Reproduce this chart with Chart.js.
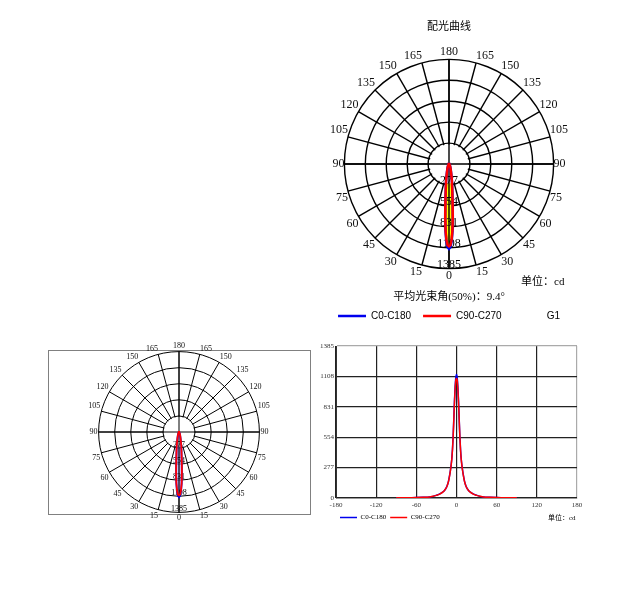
<!DOCTYPE html>
<html>
<head>
<meta charset="utf-8">
<script src="https://cdn.jsdelivr.net/npm/chart.js@4.4.1/dist/chart.umd.min.js"></script>
<style>
  body { margin: 0; background: #fff; }
  #page { position: relative; width: 634px; height: 604px; font-family: 'Liberation Serif', 'Noto Sans CJK SC', serif; }
  canvas, .txt, .frame { position: absolute; }
  .frame { left: 48px; top: 350px; width: 263px; height: 165px; box-sizing: border-box; border: 1px solid #808080; }
  .txt { white-space: nowrap; color: #000; }
</style>
</head>
<body>
<div id="page">
  <div class="frame"></div>
  <canvas id="mainPolar" width="280" height="321" style="left:309px;top:10px"></canvas>
  <canvas id="smallPolar" width="182" height="182" style="left:88px;top:341px"></canvas>
  <canvas id="cartesian" width="290" height="196" style="left:300px;top:335px"></canvas>
  <div class="txt" style="left:521px;top:272px;font-size:11px">单位：cd</div>
  <div class="txt" style="left:548px;top:512px;font-size:7px">单位：cd</div>
</div>
<script>
// gamma angles (deg from nadir) and luminous intensity (cd)
var gammaAngles = [0, 1, 2, 3, 4, 5, 6, 7, 8, 9, 10, 12, 14, 16, 18, 20, 25, 30, 35, 40, 50, 60, 70, 80, 90];
var c0c180  = [1125, 1100, 1020, 890, 725, 565, 445, 360, 302, 257, 217, 152, 112, 86, 69, 57, 37, 25, 15, 10, 6, 4, 3, 2, 2];
var c90c270 = [1090, 1075, 1000, 875, 715, 558, 440, 356, 298, 253, 214, 150, 110, 85, 68, 56, 36, 24, 15, 10, 6, 4, 3, 2, 2];

var seriesNames = ['C0-C180', 'C90-C270'];
var intensityMax = 1385;
var intensityStep = 277;
var angleMin = -180, angleMax = 180, angleStep = 60;

// one category per degree around the circle, text only every 15 degrees
var polarLabels = [];
for (var i = 0; i < 360; i++) {
  polarLabels.push(i % 15 ? '' : String(i <= 180 ? i : 360 - i));
}

var FONT = "'Liberation Serif', 'Noto Sans CJK SC', serif";
var SANS = "'Liberation Sans', 'Noto Sans CJK SC', sans-serif";

function toRadar(vals) {
  var out = new Array(360).fill(null);
  gammaAngles.forEach(function (g, k) {
    out[g] = vals[k];
    out[(360 - g) % 360] = vals[k];
  });
  return out;
}

function toXY(vals) {
  var pts = [];
  for (var k = gammaAngles.length - 1; k > 0; k--) pts.push({x: -gammaAngles[k], y: vals[k]});
  gammaAngles.forEach(function (g, k) { pts.push({x: g, y: vals[k]}); });
  return pts;
}

// white hub, cross through the centre and ring values along the 0 direction
var polarDecor = {
  id: 'polarDecor',
  beforeDatasetsDraw: function (chart, args, opts) {
    var s = chart.scales.r, ctx = chart.ctx;
    var xc = s.xCenter, yc = s.yCenter, R = s.drawingArea;
    var r0 = s.getDistanceFromCenterForValue(intensityStep);
    ctx.save();
    ctx.fillStyle = '#fff';
    ctx.beginPath();
    ctx.arc(xc, yc, r0 - opts.lw, 0, Math.PI * 2);
    ctx.fill();
    ctx.strokeStyle = '#000';
    ctx.lineWidth = opts.lw;
    ctx.beginPath();
    [0, 90, 180, 270].forEach(function (idx) {
      var p = s.getPointPosition(idx, R);
      ctx.moveTo(xc, yc);
      ctx.lineTo(p.x, p.y);
    });
    ctx.stroke();
    ctx.fillStyle = '#000';
    ctx.font = opts.size + 'px ' + FONT;
    ctx.textAlign = 'center';
    ctx.textBaseline = 'alphabetic';
    s.ticks.forEach(function (t) {
      if (t.value > 0) ctx.fillText(String(t.value), xc, yc + s.getDistanceFromCenterForValue(t.value) - 1);
    });
    ctx.restore();
  }
};

function radarScale(size, pad, lw) {
  return {
    r: {
      min: 0,
      max: intensityMax,
      startAngle: 180,
      ticks: {stepSize: intensityStep, display: false},
      grid: {circular: true, color: '#000', lineWidth: lw},
      angleLines: {
        color: '#000',
        lineWidth: function (c) { return c.index % 15 === 0 ? lw : 0; }
      },
      pointLabels: {font: {size: size, family: FONT}, color: '#111', padding: pad}
    }
  };
}

function byIndex(a, b) { return a.datasetIndex - b.datasetIndex; }

new Chart(document.getElementById('mainPolar'), {
  type: 'radar',
  data: {
    labels: polarLabels,
    datasets: [
      {label: seriesNames[0], data: toRadar(c0c180), borderColor: '#0000ee', borderWidth: 2.5, fill: false, spanGaps: true, pointRadius: 0, order: 2},
      {label: seriesNames[1], data: toRadar(c90c270), borderColor: '#ff0000', backgroundColor: '#ffff00', borderWidth: 2.5, fill: true, spanGaps: true, pointRadius: 0, order: 1}
    ]
  },
  options: {
    responsive: false,
    animation: false,
    scales: radarScale(12, 0, 1.4),
    plugins: {
      filler: {drawTime: 'beforeDatasetsDraw'},
      polarDecor: {size: 12, lw: 1.4},
      tooltip: {enabled: false},
      title: {
        display: true, text: '配光曲线', color: '#000',
        font: {size: 11, family: FONT, weight: 'normal'},
        padding: {top: 10.4, bottom: 11.4}
      },
      legend: {
        position: 'bottom',
        labels: {
          usePointStyle: true, pointStyle: 'line', pointStyleWidth: 28, padding: 12,
          color: '#000', font: {size: 10, family: SANS},
          generateLabels: function (chart) {
            var items = Chart.defaults.plugins.legend.labels.generateLabels(chart).sort(byIndex);
            items.push({text: 'G1', strokeStyle: 'rgba(0,0,0,0)', fillStyle: 'rgba(0,0,0,0)', lineWidth: 0, pointStyle: 'line', hidden: false, datasetIndex: 9});
            return items;
          }
        },
        title: {
          display: true, text: '平均光束角(50%)：9.4°', color: '#000',
          font: {size: 11, family: FONT}, padding: {top: 8.5, bottom: -5.7}
        }
      }
    }
  },
  plugins: [polarDecor]
});

new Chart(document.getElementById('smallPolar'), {
  type: 'radar',
  data: {
    labels: polarLabels,
    datasets: [
      {label: seriesNames[0], data: toRadar(c0c180), borderColor: '#0000ee', backgroundColor: 'rgba(170,160,255,0.6)', borderWidth: 1.8, fill: true, spanGaps: true, pointRadius: 0, order: 2},
      {label: seriesNames[1], data: toRadar(c90c270), borderColor: '#ff0000', borderWidth: 1.8, fill: false, spanGaps: true, pointRadius: 0, order: 1}
    ]
  },
  options: {
    responsive: false,
    animation: false,
    scales: radarScale(8, 1, 1),
    plugins: {
      filler: {drawTime: 'beforeDatasetsDraw'},
      polarDecor: {size: 8, lw: 1},
      tooltip: {enabled: false},
      legend: {display: false}
    }
  },
  plugins: [polarDecor]
});

function gridColor(c) {
  return c.tick && c.tick.value === c.scale.max ? '#aaa' : '#222';
}

new Chart(document.getElementById('cartesian'), {
  type: 'line',
  data: {
    datasets: [
      {label: seriesNames[0], data: toXY(c0c180), borderColor: '#0000ee', borderWidth: 1.5, pointRadius: 0, cubicInterpolationMode: 'monotone', order: 2},
      {label: seriesNames[1], data: toXY(c90c270), borderColor: '#ff0000', borderWidth: 1.5, pointRadius: 0, cubicInterpolationMode: 'monotone', order: 1}
    ]
  },
  options: {
    responsive: false,
    animation: false,
    layout: {padding: {top: 11, right: 13}},
    scales: {
      x: {
        type: 'linear', min: angleMin, max: angleMax,
        ticks: {stepSize: angleStep, color: '#333', font: {size: 7, family: FONT}, padding: 3, maxRotation: 0,
                callback: function (v) { return String(v); }},
        grid: {color: gridColor, lineWidth: 1.2, drawTicks: false},
        border: {color: '#999'},
        afterFit: function (s) { s.height = 12; }
      },
      y: {
        min: 0, max: intensityMax,
        ticks: {stepSize: intensityStep, color: '#333', font: {size: 7, family: FONT}, padding: 2,
                callback: function (v) { return String(v); }},
        grid: {color: gridColor, lineWidth: 1.2, drawTicks: false},
        border: {color: '#333'},
        afterFit: function (s) { s.width = 36; }
      }
    },
    plugins: {
      tooltip: {enabled: false},
      legend: {
        position: 'bottom', align: 'start', fullSize: false,
        labels: {usePointStyle: true, pointStyle: 'line', pointStyleWidth: 17, padding: 4, color: '#000',
                 font: {size: 7, family: FONT}, sort: byIndex}
      }
    }
  }
});
</script>
</body>
</html>
